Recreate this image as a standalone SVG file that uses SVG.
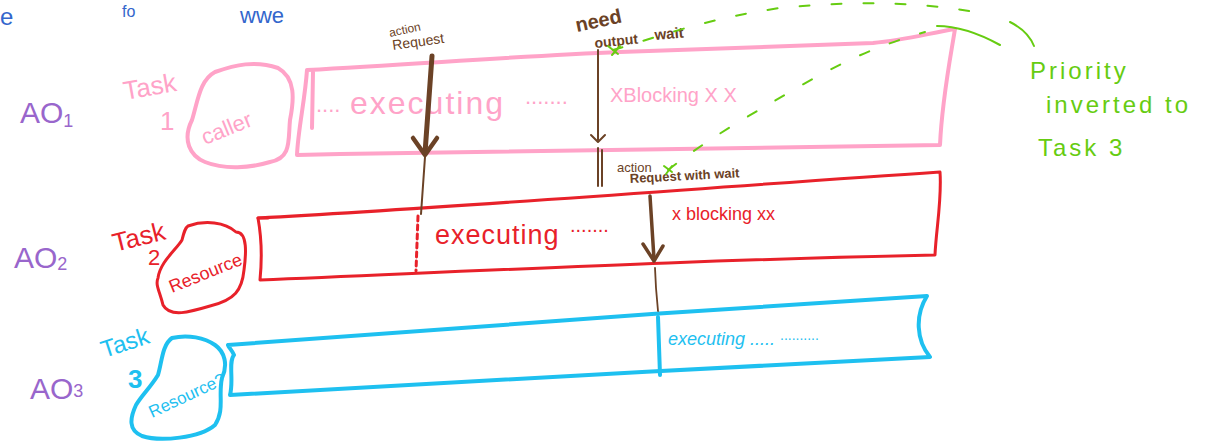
<svg xmlns="http://www.w3.org/2000/svg" width="1211" height="441" viewBox="0 0 1211 441">
<defs>
<style>
text{font-family:"Liberation Sans","DejaVu Sans",sans-serif}
.pink{fill:none;stroke:#ffa3c8;stroke-width:4;stroke-linecap:round;stroke-linejoin:round}
.red{fill:none;stroke:#e8212a;stroke-width:3;stroke-linecap:round;stroke-linejoin:round}
.cyan{fill:none;stroke:#1ec0f0;stroke-width:4;stroke-linecap:round;stroke-linejoin:round}
.brown{fill:none;stroke:#6b4226;stroke-linecap:round;stroke-linejoin:round}
.green{fill:none;stroke:#66cc11;stroke-width:2;stroke-linecap:round}
.gdash{fill:none;stroke:#66cc11;stroke-width:2;stroke-dasharray:10 22;stroke-linecap:round}
.tp{fill:#ffa3c8}
.tr{fill:#e8212a}
.tc{fill:#1ec0f0}
.tb{fill:#6b4226}
.tg{fill:#66cc11}
.tblue{fill:#3366cc}
.ao{fill:#9966cc;font-size:30px}
</style>
</defs>
<rect width="1211" height="441" fill="#ffffff"/>

<g id="title">
<text class="tblue" x="0" y="25" font-size="24">e</text>
<text class="tblue" x="122" y="17" font-size="16">fo</text>
<text class="tblue" x="240" y="23" font-size="22">wwe</text>
</g>

<g id="ao-labels">
<text class="ao" x="20" y="123">AO<tspan font-size="18" dy="4">1</tspan></text>
<text class="ao" x="14" y="268">AO<tspan font-size="18" dy="2">2</tspan></text>
<text class="ao" x="30" y="399">AO<tspan font-size="18" dy="-2">3</tspan></text>
</g>

<g id="task1">
<text class="tp" x="125" y="100" font-size="26" transform="rotate(-10 125 100)">Task</text>
<text class="tp" x="160" y="130" font-size="26">1</text>
<path class="pink" stroke-width="1.6" d="M215 72 C235 65 255 60 278 68 C296 78 294 100 290 120 C288 140 292 158 270 162 C250 168 225 170 205 162 C190 156 182 140 192 120 C198 100 200 80 215 72 Z"/>
<text class="tp" x="205" y="145" font-size="22" transform="rotate(-22 205 145)">caller</text>
<path class="pink" d="M307 70 C420 64 520 56 620 52 C720 48 820 45 873 43 C905 40 930 33 955 29 C950 60 942 100 940 145 C700 147 500 150 297 155 C298 130 305 100 307 70 Z"/>
<path class="pink" stroke-width="2.5" d="M313 72 L312 128"/>
<text class="tp" x="316" y="112" font-size="22">....</text>
<text class="tp" x="350" y="114" font-size="32" letter-spacing="2">executing</text>
<text class="tp" x="525" y="104" font-size="22">.......</text>
<text class="tp" x="610" y="102" font-size="20">XBlocking X X</text>
</g>

<g id="task2">
<text class="tr" x="115" y="252" font-size="26" transform="rotate(-14 115 252)">Task</text>
<text class="tr" x="148" y="265" font-size="22">2</text>
<path class="red" stroke-width="1.6" d="M188 226 C205 220 225 222 236 232 C248 232 246 255 244 270 C242 290 235 300 210 306 C190 312 170 318 163 305 C160 292 155 285 158 278 C160 262 176 250 182 240 C184 232 185 228 188 226 Z"/>
<text class="tr" x="172" y="293" font-size="18" transform="rotate(-22 172 293)">Resource</text>
<path class="red" d="M258 218 C450 208 700 188 940 172 C942 200 936 230 935 255 C700 260 500 270 260 280 C262 260 262 240 258 218 Z"/>
<path class="red" d="M258 218 L268 218"/>
<text class="tr" x="435" y="244" font-size="27" letter-spacing="1">executing</text>
<text class="tr" x="570" y="232" font-size="20">.......</text>
<text class="tr" x="672" y="220" font-size="18">x blocking xx</text>
</g>

<g id="task3">
<text class="tc" x="104" y="358" font-size="24" transform="rotate(-18 104 358)">Task</text>
<text class="tc" x="128" y="388" font-size="26" font-weight="bold">3</text>
<path class="cyan" stroke-width="1.6" d="M172 338 C188 334 205 338 215 345 C225 352 228 365 222 378 C218 395 225 410 215 425 C200 438 160 442 142 436 C128 430 130 418 136 405 C142 395 150 388 158 375 C162 362 162 345 172 338 Z"/>
<text class="tc" x="152" y="418" font-size="17" transform="rotate(-25 152 418)">Resource?</text>
<path class="cyan" d="M228 345 C420 330 700 310 927 296 C915 315 916 340 930 357 C700 368 450 383 230 395 C234 380 228 362 234 355 C232 350 229 348 228 345 Z"/>
<path class="cyan" stroke-width="2.5" d="M658 317 L660 375"/>
<text class="tc" x="668" y="345" font-size="18" font-style="italic">executing .....</text>
<text class="tc" x="780" y="340" font-size="14">..........</text>
</g>

<g id="priority-note">
<text class="tg" x="1030" y="79" font-size="24" letter-spacing="3">Priority</text>
<text class="tg" x="1046" y="113" font-size="24" letter-spacing="3">inverted to</text>
<text class="tg" x="1038" y="156" font-size="24" letter-spacing="3">Task 3</text>
</g>

<g id="brown-labels">
<text class="tb" x="390" y="37" font-size="12" transform="rotate(-12 390 37)">action</text>
<text class="tb" x="393" y="50" font-size="14" transform="rotate(-8 393 50)">Request</text>
<text class="tb" x="577" y="32" font-size="20" font-weight="bold" transform="rotate(-12 577 32)">need</text>
<text class="tb" x="595" y="48" font-size="14" font-weight="bold" transform="rotate(-6 595 48)">output</text>
<text class="tb" x="655" y="40" font-size="15" font-weight="bold" transform="rotate(-5 655 40)">wait</text>
<text class="tb" x="617" y="172" font-size="13">action</text>
<text class="tb" x="630" y="183" font-size="13" font-weight="bold" transform="rotate(-3 630 183)">Request with wait</text>
</g>

<g id="connectors">
<path class="brown" stroke-width="5" d="M432 56 L425 153"/>
<path class="brown" stroke-width="4.5" d="M413 138 L425 155 L437 138"/>
<path class="brown" stroke-width="2" d="M425 157 L421 214"/>
<path class="red" stroke-width="2" stroke-dasharray="5 4" d="M418 216 L416 271"/>
<path class="brown" stroke-width="2" d="M598 50 L598 140"/>
<path class="brown" stroke-width="2" d="M591 135 L598 142 L605 135"/>
<path class="brown" stroke-width="2" d="M598 148 L598 186 M602 150 L602 186"/>
<path class="brown" stroke-width="3.5" d="M650 196 L654 259"/>
<path class="brown" stroke-width="3.5" d="M643 244 L654 261 L663 246"/>
<path class="brown" stroke-width="1.8" d="M655 268 L656 288 L658 311"/>
<path class="gdash" d="M613 50 C660 36 710 18 780 8 C860 0 930 2 990 15"/>
<path class="green" d="M1010 22 C1022 28 1030 36 1034 46"/>
<path class="green" d="M608 46 L618 54 M612 55 L620 46"/>
<path class="gdash" d="M668 170 C720 130 760 110 800 86 C850 58 880 45 925 32"/>
<path class="green" d="M937 26 C960 26 980 34 1000 45"/>
<path class="green" d="M664 166 L672 172 M666 174 L672 166"/>
</g>
</svg>
